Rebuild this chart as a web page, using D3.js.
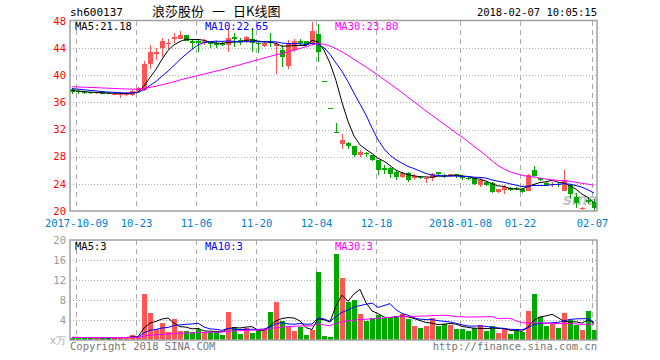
<!DOCTYPE html>
<html><head><meta charset="utf-8">
<script src="https://cdn.jsdelivr.net/npm/d3@7/dist/d3.min.js"></script>
<style>body{margin:0;background:#fff}svg{display:block}</style>
</head><body><svg id="c" width="660" height="360"></svg>
<script>
// ---------- data ----------
const dates = ["2017-09-29",
"2017-10-09","2017-10-10","2017-10-11","2017-10-12","2017-10-13",
"2017-10-16","2017-10-17","2017-10-18","2017-10-19","2017-10-20",
"2017-10-23","2017-10-24","2017-10-25","2017-10-26","2017-10-27",
"2017-10-30","2017-10-31","2017-11-01","2017-11-02","2017-11-03",
"2017-11-06","2017-11-07","2017-11-08","2017-11-09","2017-11-10",
"2017-11-13","2017-11-14","2017-11-15","2017-11-16","2017-11-17",
"2017-11-20","2017-11-21","2017-11-22","2017-11-23","2017-11-24",
"2017-11-27","2017-11-28","2017-11-29","2017-11-30","2017-12-01",
"2017-12-04","2017-12-05","2017-12-06","2017-12-07","2017-12-08",
"2017-12-11","2017-12-12","2017-12-13","2017-12-14","2017-12-15",
"2017-12-18","2017-12-19","2017-12-20","2017-12-21","2017-12-22",
"2017-12-25","2017-12-26","2017-12-27","2017-12-28","2017-12-29",
"2018-01-02","2018-01-03","2018-01-04","2018-01-05",
"2018-01-08","2018-01-09","2018-01-10","2018-01-11","2018-01-12",
"2018-01-15","2018-01-16","2018-01-17","2018-01-18","2018-01-19",
"2018-01-22","2018-01-23","2018-01-24","2018-01-25","2018-01-26",
"2018-01-29","2018-01-30","2018-01-31","2018-02-01","2018-02-02",
"2018-02-05","2018-02-06","2018-02-07"];

const open  = [38.0,37.7,37.6,37.5,37.4,37.5,37.4,37.2,37.2,37.2,37.1,37.7,37.8,41.7,43.1,44.0,44.6,45.4,45.4,45.9,45.0,45.0,44.8,44.9,44.8,44.8,44.4,45.6,45.2,45.0,45.4,44.8,44.3,45.1,44.3,43.7,41.3,43.8,45.0,45.0,44.6,46.1,39.1,35.2,31.7,29.9,30.0,29.6,28.3,28.5,28.2,27.5,26.3,26.3,25.8,25.0,25.6,24.8,25.0,24.7,24.8,25.7,25.3,25.1,25.4,25.1,24.9,24.9,23.8,24.3,24.2,22.8,23.1,23.4,23.4,23.3,23.0,26.1,24.8,24.2,23.9,24.0,23.0,23.8,22.0,20.3,21.6,21.4];
const high  = [38.1,37.8,37.7,37.6,37.6,37.5,37.5,37.4,37.4,37.6,37.8,38.3,42.1,44.4,44.0,45.5,45.4,46.2,46.6,46.0,45.2,45.3,45.4,45.1,45.0,45.0,46.9,46.2,45.5,45.8,46.9,45.0,45.1,46.2,44.9,44.4,45.2,45.4,45.3,45.1,47.8,47.5,39.1,35.2,32.9,31.3,30.1,29.6,29.0,28.7,28.3,27.5,26.8,26.5,26.0,25.8,25.7,25.4,25.1,25.0,25.6,25.8,25.4,25.5,25.5,25.3,25.0,25.0,24.8,24.4,24.3,23.3,23.8,23.5,23.5,23.4,25.5,26.7,24.9,24.3,24.3,24.1,26.0,24.0,22.6,20.6,22.1,21.8];
const low   = [37.3,37.2,37.2,37.3,37.3,37.2,37.2,37.1,36.7,36.9,37.0,37.6,37.7,40.9,42.3,42.7,43.9,44.8,45.3,45.0,43.9,43.4,44.5,44.0,44.0,44.3,43.4,44.2,44.5,44.8,43.4,43.3,44.1,44.2,40.2,41.2,41.0,43.5,44.3,44.4,44.4,41.9,39.1,35.2,31.7,29.2,29.2,27.9,28.0,28.0,27.3,25.3,25.5,24.9,24.5,24.8,24.3,24.6,24.7,24.1,24.4,25.2,24.9,25.0,24.9,24.5,24.5,23.8,23.6,23.7,22.6,22.7,22.5,23.0,23.1,22.6,22.9,25.0,24.4,23.7,23.5,23.6,22.9,21.8,20.4,20.2,21.1,20.0];
const close = [37.6,37.5,37.4,37.4,37.5,37.3,37.3,37.3,37.3,37.3,37.7,38.1,41.7,43.5,43.4,45.0,44.8,45.7,46.0,45.1,44.8,44.8,45.1,44.6,44.5,44.5,45.5,45.3,44.9,45.6,44.8,44.6,44.8,44.7,44.6,42.7,44.8,45.1,44.8,44.5,46.6,43.5,39.1,35.2,31.7,30.5,29.6,28.2,28.7,28.4,27.5,26.0,26.1,25.5,25.0,25.6,24.6,25.2,24.9,24.8,25.4,25.4,25.1,25.4,25.1,24.9,24.8,24.0,24.6,23.8,22.8,23.3,23.6,23.1,23.3,22.8,25.3,25.1,24.5,23.8,24.0,23.8,24.5,22.5,21.2,20.4,21.4,20.4];
// volume, 万手
const volume = [0.5,0.5,0.4,0.5,0.4,0.5,0.4,0.5,0.6,0.5,1.0,0.7,9.2,5.5,2.2,3.4,1.6,4.2,1.9,1.8,1.6,2.2,1.6,1.6,1.6,1.0,5.6,2.6,1.2,2.5,1.5,2.0,2.3,5.7,7.7,3.8,2.9,1.9,2.7,1.0,2.0,13.7,0.8,0.6,17.2,12.5,7.7,8.0,5.2,3.8,4.4,5.0,4.5,4.5,4.8,5.2,4.2,2.8,2.5,2.8,4.5,2.8,3.3,3.1,2.2,2.2,1.8,2.5,3.0,1.8,2.8,1.5,2.3,1.3,1.8,1.7,5.8,9.2,4.6,2.8,3.3,2.5,5.4,4.0,3.0,2.0,5.8,2.0];
// sessions before the visible window (estimated from the moving-average lines)
const priorCloses = [38.5,38.4,38.5,38.4,38.5,38.4,38.5,38.4,38.5,38.4,38.5,38.4,38.5,38.5,38.4,38.5,38.4,38.5,38.4,38.4,38.3,38.3,38.2,38.3,38.4,37.9,37.8,37.8,37.7];
const priorVolumes = [0.5,0.6,0.5,0.4,0.5,0.6,0.5,0.5,0.4,0.5,0.6,0.5,0.5,0.4,0.5,0.5,0.6,0.5,0.4,0.5,0.5,0.6,0.5,0.5,0.4,0.5,0.6,0.5,0.5];

const tickDates  = ["2017-10-09","2017-10-23","2017-11-06","2017-11-20","2017-12-04","2017-12-18","2018-01-08","2018-01-22","2018-02-07"];
const tickLabels = ["2017-10-09","10-23","11-06","11-20","12-04","12-18","2018-01-08","01-22","02-07"];
const priceTicks = [20,24,28,32,36,40,44,48];
const volTicks = [4,8,12,16,20];
const maPeriods = [5,10,30];
const maColors = ["#000000","#0000ff","#ff00ff"];
const headerCode = "sh600137";
const headerTitleParts = ["浪莎股份","一","日K线图"];
const headerTime = "2018-02-07 10:05:15";

// ---------- helpers ----------
function movingAvg(vals, prior, n){
  const all = prior.concat(vals), off = prior.length;
  return vals.map((v,i)=>{ const k=i+off; return d3.mean(all.slice(k-n+1,k+1)); });
}
const RED="#ff5555", GREEN="#00a800";
const colorOf = i => close[i]>open[i] ? RED : close[i]<open[i] ? GREEN : (i>0 && close[i]>=close[i-1] ? RED : GREEN);

const svg = d3.select("#c");
const mono = "'DejaVu Sans Mono', monospace";
const L=70, R=597, PT=21, PB=211, VT=240, VB=340;

const x = d3.scaleBand().domain(dates).range([L-1, R]);
const cx = d => x(d) + x.bandwidth()/2;
const yP = d3.scaleLinear().domain([20,48]).range([PB,PT]);
const yV = d3.scaleLinear().domain([0,20]).range([VB,VT]);

const defs = svg.append("defs");
defs.append("clipPath").attr("id","cp").append("rect").attr("x",L).attr("y",PT).attr("width",R-L).attr("height",PB-PT);
defs.append("clipPath").attr("id","cv").append("rect").attr("x",L).attr("y",VT).attr("width",R-L).attr("height",VB-VT);

// ---------- header ----------
svg.append("text").attr("x",L).attr("y",16).attr("font-family",mono).attr("font-size",11).text(headerCode);
const tt = svg.append("text").attr("x",152).attr("y",16).attr("font-family","'Noto Sans CJK SC'").attr("font-size",13);
headerTitleParts.forEach((p,i)=> tt.append("tspan").attr("dx", i ? 8 : 0).text(p));
svg.append("text").attr("x",R).attr("y",16).attr("text-anchor","end").attr("font-family",mono).attr("font-size",10.5).text(headerTime);

// ---------- grids ----------
function grids(top, bottom, yScale, ticks){
  const g = svg.append("g").attr("shape-rendering","crispEdges");
  g.selectAll(".h").data(ticks).enter().append("line")
    .attr("x1",L).attr("x2",R).attr("y1",d=>Math.round(yScale(d))+0.5).attr("y2",d=>Math.round(yScale(d))+0.5)
    .attr("stroke","#aaa").attr("stroke-dasharray","1,2");
  g.selectAll(".v").data(tickDates).enter().append("line")
    .attr("x1",d=>Math.floor(x(d)+1.5)+0.5).attr("x2",d=>Math.floor(x(d)+1.5)+0.5)
    .attr("y1",top).attr("y2",bottom).attr("stroke","#aaa").attr("stroke-dasharray","5,4");
}
grids(PT, PB, yP, priceTicks.slice(1,-1));
grids(VT, VB, yV, volTicks.slice(0,-1));

// watermark
svg.append("text").attr("x",563).attr("y",205).attr("font-family","'DejaVu Sans'").attr("font-weight","bold")
  .attr("font-style","italic").attr("font-size",15).attr("fill","#c4c4c4").text("sina");

// ---------- candles ----------
const cg = svg.append("g").attr("clip-path","url(#cp)").attr("shape-rendering","crispEdges");
dates.forEach((d,i)=>{
  const c = colorOf(i), xc = Math.floor(cx(d))+0.5;
  cg.append("line").attr("x1",xc).attr("x2",xc).attr("y1",yP(high[i])).attr("y2",yP(low[i])).attr("stroke",c);
  const y1 = yP(Math.max(open[i],close[i])), y2 = yP(Math.min(open[i],close[i]));
  cg.append("rect").attr("x",xc-2.5).attr("width",5).attr("y",y1).attr("height",Math.max(1,y2-y1)).attr("fill",c);
});
// price MAs
const line = (sc, vals) => d3.line().x((v,i)=>cx(dates[i])).y(v=>sc(v))(vals);
const priceMA = maPeriods.map(n=>movingAvg(close, priorCloses, n));
const volMA = maPeriods.map(n=>movingAvg(volume, priorVolumes, n));
const mg = svg.append("g").attr("clip-path","url(#cp)");
priceMA.forEach((m,k)=> mg.append("path").attr("d",line(yP,m)).attr("fill","none").attr("stroke",maColors[k]).attr("stroke-width",1));

// ---------- volume ----------
const vg = svg.append("g").attr("clip-path","url(#cv)").attr("shape-rendering","crispEdges");
dates.forEach((d,i)=>{
  const xc = Math.floor(cx(d))+0.5;
  vg.append("rect").attr("x",xc-2.5).attr("width",5).attr("y",yV(volume[i])).attr("height",VB-yV(volume[i])).attr("fill",colorOf(i));
});
const vmg = svg.append("g").attr("clip-path","url(#cv)");
volMA.forEach((m,k)=> vmg.append("path").attr("d",line(yV,m)).attr("fill","none").attr("stroke",maColors[k]).attr("stroke-width",1));

// ---------- frames ----------
svg.append("rect").attr("x",L).attr("y",PT-0.5).attr("width",R-L).attr("height",PB-PT+0.5).attr("fill","none").attr("stroke","#a0a0a0").attr("stroke-width",1.5);
svg.append("rect").attr("x",L).attr("y",VT).attr("width",R-L).attr("height",VB-VT).attr("fill","none").attr("stroke","#a0a0a0").attr("stroke-width",1.5);

// ---------- axes labels ----------
svg.append("g").selectAll("text").data(priceTicks).enter().append("text")
  .attr("x",66).attr("y",d=>yP(d)).attr("dy","0.35em").attr("text-anchor","end")
  .attr("font-family",mono).attr("font-size",10.5).attr("fill","#ff0000").text(d=>d);
svg.append("g").selectAll("text").data(volTicks).enter().append("text")
  .attr("x",66).attr("y",d=>yV(d)).attr("dy","0.35em").attr("text-anchor","end")
  .attr("font-family",mono).attr("font-size",10.5).attr("fill","#999").text(d=>d);
svg.append("text").attr("x",50).attr("y",344).attr("font-family",mono).attr("font-size",10).attr("fill","#aaa").text("x万");
svg.append("g").selectAll("text").data(tickDates).enter().append("text")
  .attr("x",d=>x(d)+1.5).attr("y",227).attr("text-anchor","middle")
  .attr("font-family",mono).attr("font-size",10.5).attr("fill","#0080cc").text((d,i)=>tickLabels[i]);

// ---------- legends ----------
const legX = [75,205,335];
maPeriods.forEach((n,k)=>{
  const last = priceMA[k][priceMA[k].length-1];
  svg.append("text").attr("x",legX[k]).attr("y",30).attr("font-family",mono).attr("font-size",10.5)
    .attr("fill",maColors[k]).text("MA"+n+":"+last.toFixed(2));
  const lv = volMA[k][volMA[k].length-1];
  svg.append("text").attr("x",legX[k]).attr("y",250).attr("font-family",mono).attr("font-size",10.5)
    .attr("fill",maColors[k]).text("MA"+n+":"+Math.floor(lv));
});

// ---------- footer ----------
svg.append("text").attr("x",L).attr("y",350).attr("font-family",mono).attr("font-size",10.5).attr("fill","#777").text("Copyright 2018 SINA.COM");
svg.append("text").attr("x",R).attr("y",350).attr("text-anchor","end").attr("font-family",mono).attr("font-size",10.5).attr("fill","#777").text("http://finance.sina.com.cn");
</script></body></html>
